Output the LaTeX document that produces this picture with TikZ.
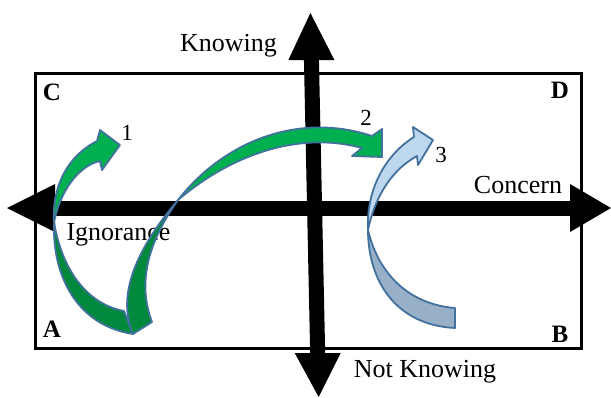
\documentclass[tikz,border=0pt]{standalone}
\usepackage{fontspec}
\setmainfont{Liberation Serif}
\definecolor{lgreen}{HTML}{00B050}
\definecolor{dgreen}{HTML}{00883D}
\definecolor{lblue}{HTML}{BDD7EE}
\definecolor{dblue}{HTML}{98AFC8}
\definecolor{arrowline}{HTML}{41719C}
\begin{document}
\begin{tikzpicture}[x=1pt,y=-1pt,
  axis/.style={line width=15pt, black},
  tipfill/.style={fill=black},
  band/.style={draw=arrowline, line width=1.8pt, line join=round},
  lbl/.style={font=\fontsize{26}{30}\selectfont, inner sep=0pt, anchor=base},
  corner/.style={font=\fontsize{25}{30}\selectfont\bfseries, inner sep=0pt, anchor=base},
  num/.style={font=\fontsize{23}{28}\selectfont, inner sep=0pt, anchor=base}]
\useasboundingbox (0,0) rectangle (611,397);

% frame
\draw[line width=3pt] (35,73) rectangle (581,348);

% horizontal axis
\coordinate (hl) at (55,208);
\coordinate (hr) at (570,208);
\coordinate (hltip) at (7,208);
\coordinate (hrtip) at (611,208);
\draw[axis] (hl) -- (hr);
\fill[tipfill] (55,184) -- (hltip) -- (55,232) -- cycle;
\fill[tipfill] (570,184) -- (hrtip) -- (570,232) -- cycle;

% vertical axis
\coordinate (vt) at (311.4,58);
\coordinate (vb) at (317.7,355);
\coordinate (vttip) at (310.4,13);
\coordinate (vbtip) at (318.7,397);
\draw[axis] (vt) -- (vb);
\fill[tipfill] (288.4,60) -- (vttip) -- (334.4,60) -- cycle;
\fill[tipfill] (294.7,353) -- (vbtip) -- (340.7,353) -- cycle;

% labels
\node[lbl] (knowing) at (228.5,51) {Knowing};
\node[lbl] (notknowing) at (425,377) {Not Knowing};
\node[lbl] (concern) at (518,193) {Concern};
\node[lbl] (ignorance) at (118.5,240) {Ignorance};
\node[corner] (cC) at (52,100) {C};
\node[corner] (cD) at (560,98) {D};
\node[corner] (cA) at (52,337) {A};
\node[corner] (cB) at (560,342) {B};
\node[num] (n1) at (127,140) {1};
\node[num] (n2) at (366,125) {2};
\node[num] (n3) at (441,162) {3};

% arrow 1
\filldraw[band, fill=dgreen] (54,222) .. controls (52,280) and (80,326) .. (133,334)
  -- (124,311) .. controls (87,304) and (62,270) .. (54,222) -- cycle;
\filldraw[band, fill=lgreen] (54,222) .. controls (52,188) and (66,157) .. (97,141)
  -- (100,130) -- (120,145) -- (102,170) -- (100,161)
  .. controls (82,165) and (62,185) .. (54,222) -- cycle;

% arrow 2
\filldraw[band, fill=dgreen] (178,200) .. controls (144,240) and (114,290) .. (133,334)
  -- (152,322) .. controls (138,285) and (146,245) .. (178,200) -- cycle;
\filldraw[band, fill=lgreen] (178,200) .. controls (225,140) and (300,112) .. (372,136)
  -- (382,129) -- (382,157) -- (352,156) -- (362,148)
  .. controls (300,131) and (232,154) .. (178,200) -- cycle;

% arrow 3
\filldraw[band, fill=dblue] (368,230) .. controls (368,280) and (395,325) .. (455,328)
  -- (455,308) .. controls (415,305) and (380,280) .. (368,230) -- cycle;
\filldraw[band, fill=lblue] (368,230) .. controls (366,190) and (385,155) .. (414,137)
  -- (413,127) -- (433,140) -- (418,165) -- (417,156)
  .. controls (395,168) and (376,192) .. (368,230) -- cycle;
\end{tikzpicture}
\end{document}
